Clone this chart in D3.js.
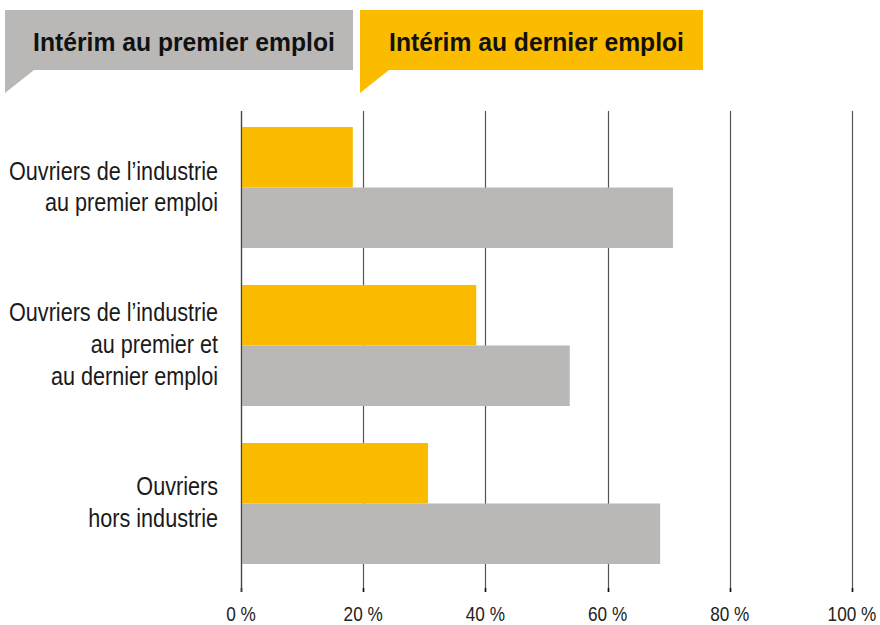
<!DOCTYPE html>
<html>
<head>
<meta charset="utf-8">
<script src="https://cdn.jsdelivr.net/npm/d3@7"></script>
<style>
  body { margin: 0; background: #fff; }
  svg { display: block; }
</style>
</head>
<body>
<div class="vis-bars"></div>
<script>
const categories = [
    ['Ouvriers de l\u2019industrie', 'au premier emploi'],
    ['Ouvriers de l\u2019industrie', 'au premier et', 'au dernier emploi'],
    ['Ouvriers', 'hors industrie'],
];
const dernier = [18.3, 38.5, 30.6];
const premier = [70.7, 53.8, 68.6];
const ticks = [0, 20, 40, 60, 80, 100];
const seriesNames = ['Intérim au premier emploi', 'Intérim au dernier emploi'];

const W = 880, H = 625;
const yellow = '#fbbc00', grey = '#b9b8b6';
const font = '"Liberation Sans", Arial, sans-serif';

// horizontally squeeze a text around its anchor x to mimic a condensed face
const squeeze = (sel, ax, f) => sel.attr('transform', `translate(${ax},0) scale(${f},1) translate(${-ax},0)`);

const svg = d3.select('.vis-bars')
    .append('svg')
    .attr('width', W)
    .attr('height', H);

const x = d3.scaleLinear()
    .domain([0, 100])
    .range([241, 852]);

const y = d3.scaleBand()
    .domain(d3.range(categories.length))
    .range([127, 564])
    .paddingInner(0.234)
    .paddingOuter(0);

const sub = d3.scaleBand()
    .domain(['dernier', 'premier'])
    .range([0, y.bandwidth()]);

// grid lines + ticks
const grid = svg.append('g');
grid.selectAll('line.grid')
    .data(ticks)
    .enter().append('line')
    .attr('class', 'grid')
    .attr('x1', d => Math.round(x(d)) + 0.5)
    .attr('x2', d => Math.round(x(d)) + 0.5)
    .attr('y1', 111)
    .attr('y2', 592)
    .attr('stroke', '#555')
    .attr('stroke-width', 1.2);

grid.selectAll('line.tickend')
    .data(ticks)
    .enter().append('line')
    .attr('class', 'tickend')
    .attr('x1', d => Math.round(x(d)) + 0.5)
    .attr('x2', d => Math.round(x(d)) + 0.5)
    .attr('y1', 588)
    .attr('y2', 592)
    .attr('stroke', '#111')
    .attr('stroke-width', 1.6);

grid.selectAll('text')
    .data(ticks)
    .enter().append('text')
    .attr('x', d => x(d))
    .attr('y', 621)
    .attr('text-anchor', 'middle')
    .style('font-family', font)
    .style('font-size', '20px')
    .attr('fill', '#222')
    .text(d => d + ' %')
    .each(function (d) { squeeze(d3.select(this), x(d), 0.86); });

// bars
const bars = svg.append('g');
bars.selectAll('rect.dernier')
    .data(dernier)
    .enter().append('rect')
    .attr('class', 'dernier')
    .attr('x', x(0))
    .attr('y', (d, i) => y(i) + sub('dernier'))
    .attr('width', d => x(d) - x(0))
    .attr('height', sub.bandwidth())
    .attr('fill', yellow);

bars.selectAll('rect.premier')
    .data(premier)
    .enter().append('rect')
    .attr('class', 'premier')
    .attr('x', x(0))
    .attr('y', (d, i) => y(i) + sub('premier'))
    .attr('width', d => x(d) - x(0))
    .attr('height', sub.bandwidth())
    .attr('fill', grey);

// zero line on top
svg.append('line')
    .attr('x1', Math.round(x(0)) + 0.5)
    .attr('x2', Math.round(x(0)) + 0.5)
    .attr('y1', 111)
    .attr('y2', 592)
    .attr('stroke', '#444')
    .attr('stroke-width', 1.2);

// category labels
const lineH = 32;
const labelX = 218;
const catG = svg.selectAll('.cat')
    .data(categories)
    .enter().append('text')
    .attr('class', 'cat')
    .attr('text-anchor', 'end')
    .style('font-family', font)
    .style('font-size', '25px')
    .attr('fill', '#1a1a1a');

catG.selectAll('tspan')
    .data((d, i) => d.map((t, j) => ({t, j, n: d.length, i})))
    .enter().append('tspan')
    .attr('x', labelX)
    .attr('y', d => y(d.i) + y.bandwidth() / 2 + (d.j - (d.n - 1) / 2) * lineH + 8)
    .text(d => d.t);

catG.call(squeeze, labelX, 0.865);

// legend callouts
const legend = [
    {label: seriesNames[0], color: grey, x0: 5, x1: 353},
    {label: seriesNames[1], color: yellow, x0: 360, x1: 703},
];

const legG = svg.selectAll('.legend')
    .data(legend)
    .enter().append('g')
    .attr('class', 'legend');

legG.append('path')
    .attr('d', d => `M${d.x0},10 H${d.x1} V70 H${d.x0 + 29} L${d.x0},93 Z`)
    .attr('fill', d => d.color);

legG.append('text')
    .attr('x', d => (d.x0 + d.x1) / 2 + 5)
    .attr('y', 51)
    .attr('text-anchor', 'middle')
    .style('font-family', font)
    .style('font-size', '26px')
    .style('font-weight', 'bold')
    .attr('fill', '#111')
    .text(d => d.label)
    .each(function (d) { squeeze(d3.select(this), (d.x0 + d.x1) / 2 + 5, 0.95); });
</script>
</body>
</html>
